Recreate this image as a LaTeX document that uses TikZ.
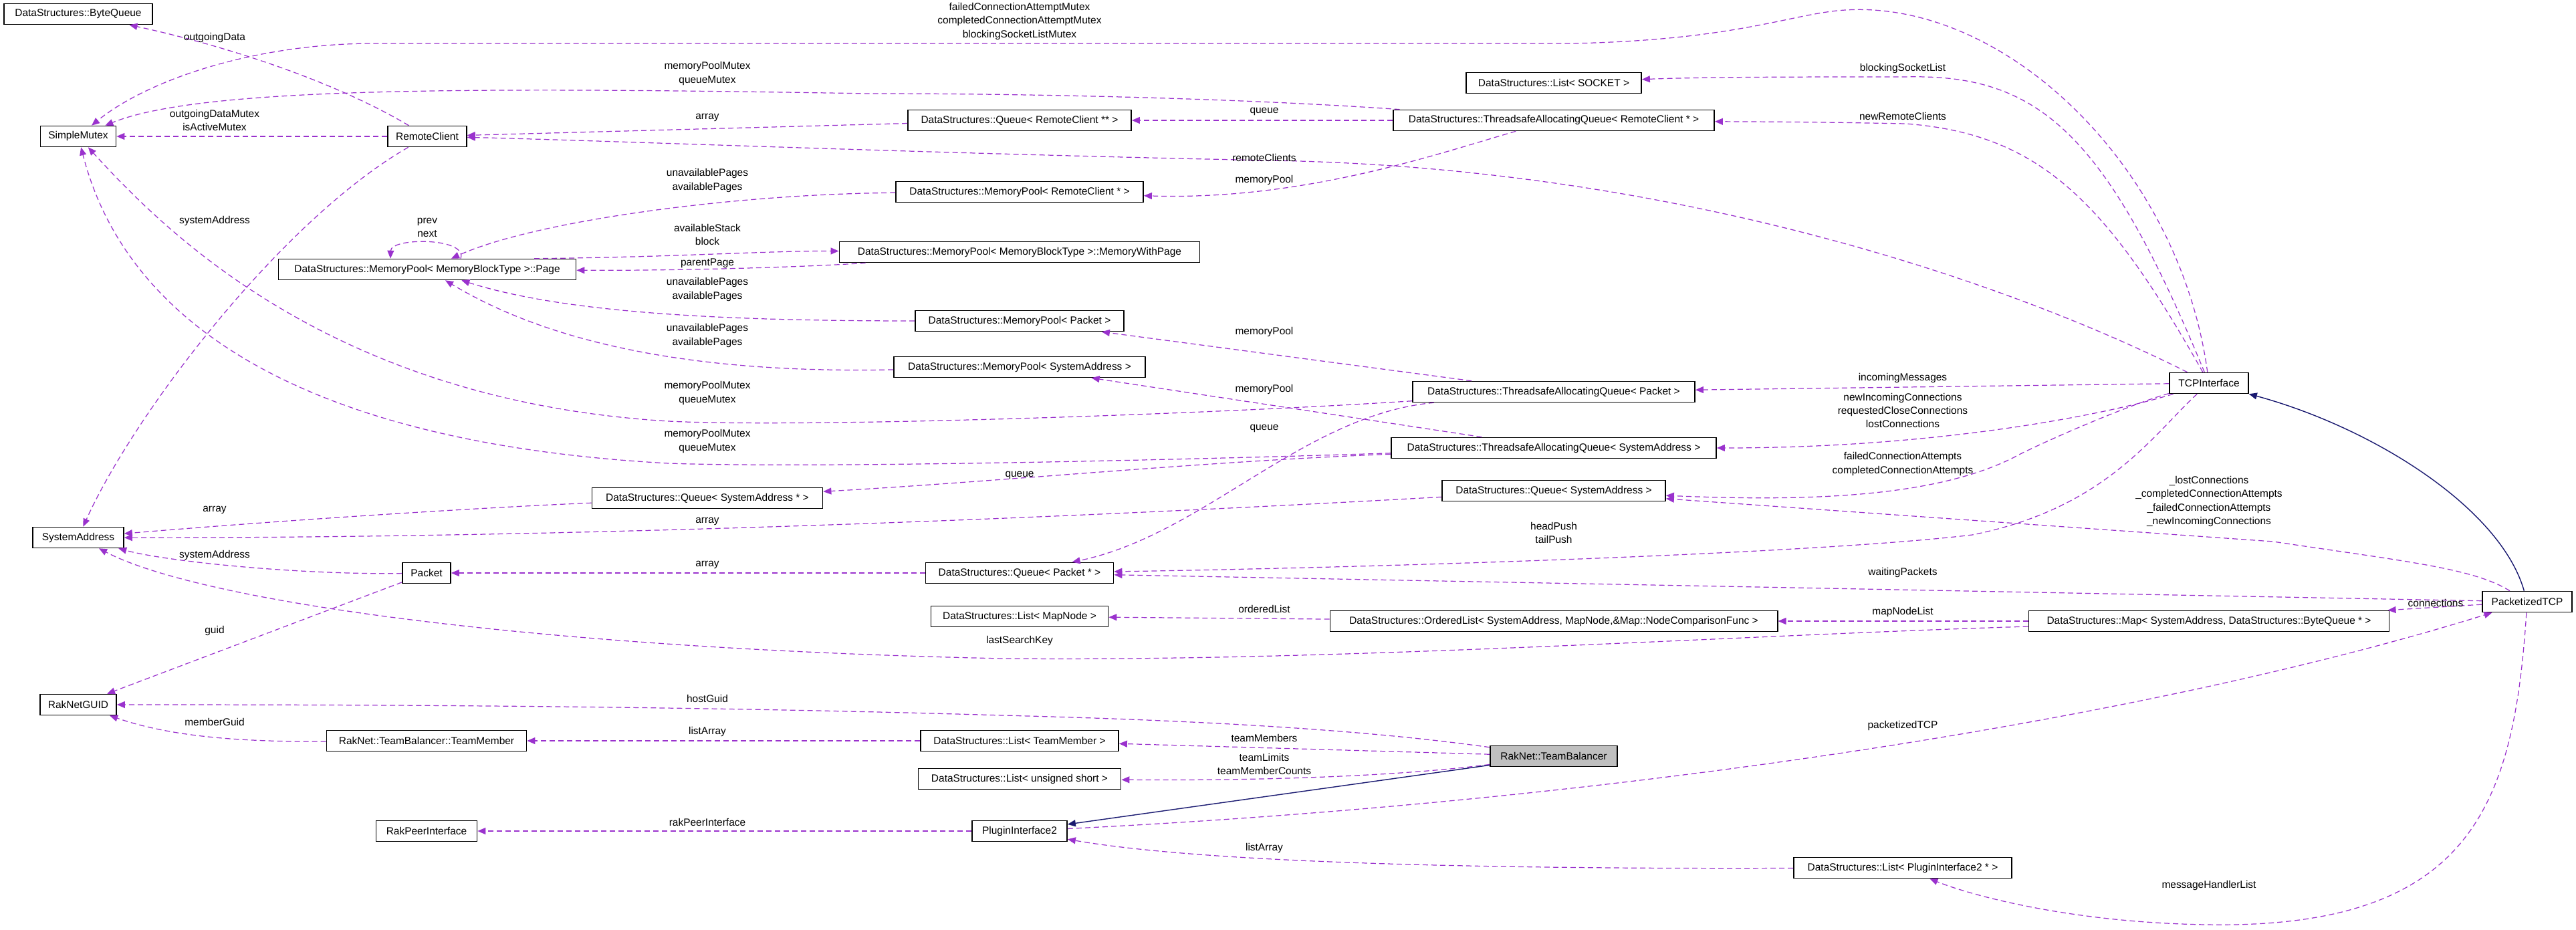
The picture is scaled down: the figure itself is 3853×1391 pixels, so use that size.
\documentclass[tikz,border=0pt]{standalone}
\usepackage{fontspec}
\setmainfont{Liberation Sans}
\usetikzlibrary{arrows.meta}
\definecolor{edgec}{HTML}{9A32CD}
\definecolor{inhc}{HTML}{191970}
\newcommand{\dgfont}{\fontsize{4.4pt}{5.7pt}\selectfont}
\tikzset{
 cls/.style={draw, line width=0.45pt, fill=white, minimum height=0.31cm, inner sep=0pt, font=\dgfont},
 e/.style={draw=edgec, line width=0.35pt, dash pattern=on 0.08cm off 0.05cm, -{Triangle[length=0.12cm,width=0.1cm]}, fill=none},
 inh/.style={draw=inhc, line width=0.4pt, -{Triangle[length=0.12cm,width=0.1cm, fill=inhc]}},
 lab/.style={font=\dgfont, align=center, inner sep=0pt}
}
\begin{document}
\begin{tikzpicture}[x=0.01cm,y=-0.01cm]
\useasboundingbox (0,0) rectangle (3853,1391);
% nodes
\node[cls, minimum width=2.22cm] (bq) at (117,21) {DataStructures::ByteQueue};
\node[cls, minimum width=1.13cm] (sm) at (117,204) {SimpleMutex};
\node[cls, minimum width=1.18cm] (rc) at (639,204) {RemoteClient};
\node[cls, minimum width=4.45cm] (page) at (639,403) {DataStructures::MemoryPool< MemoryBlockType >::Page};
\node[cls, minimum width=5.39cm] (mwp) at (1525,377) {DataStructures::MemoryPool< MemoryBlockType >::MemoryWithPage};
\node[cls, minimum width=2.62cm] (sock) at (2324,124) {DataStructures::List< SOCKET >};
\node[cls, minimum width=3.34cm] (qrc) at (1525,180) {DataStructures::Queue< RemoteClient ** >};
\node[cls, minimum width=4.80cm] (taqrc) at (2324,180) {DataStructures::ThreadsafeAllocatingQueue< RemoteClient * >};
\node[cls, minimum width=3.70cm] (mprc) at (1525,287) {DataStructures::MemoryPool< RemoteClient * >};
\node[cls, minimum width=3.12cm] (mpp) at (1525,480) {DataStructures::MemoryPool< Packet >};
\node[cls, minimum width=3.76cm] (mpsa) at (1525,549) {DataStructures::MemoryPool< SystemAddress >};
\node[cls, minimum width=4.22cm] (taqp) at (2324,586) {DataStructures::ThreadsafeAllocatingQueue< Packet >};
\node[cls, minimum width=4.86cm] (taqsa) at (2324,670) {DataStructures::ThreadsafeAllocatingQueue< SystemAddress >};
\node[cls, minimum width=1.18cm] (tcp) at (3304,573) {TCPInterface};
\node[cls, minimum width=3.45cm] (qsap) at (1058,745) {DataStructures::Queue< SystemAddress * >};
\node[cls, minimum width=1.36cm] (sa) at (117,804) {SystemAddress};
\node[cls, minimum width=0.72cm] (pk) at (638,857) {Packet};
\node[cls, minimum width=1.14cm] (guid) at (117,1054) {RakNetGUID};
\node[cls, minimum width=2.99cm] (tm) at (638,1108) {RakNet::TeamBalancer::TeamMember};
\node[cls, minimum width=1.51cm] (rpi) at (638,1243) {RakPeerInterface};
\node[cls, minimum width=3.34cm] (qsa) at (2324,734) {DataStructures::Queue< SystemAddress >};
\node[cls, minimum width=2.81cm] (qpk) at (1525,857) {DataStructures::Queue< Packet * >};
\node[cls, minimum width=2.65cm] (lmn) at (1525,922) {DataStructures::List< MapNode >};
\node[cls, minimum width=6.69cm] (ol) at (2324,929) {DataStructures::OrderedList< SystemAddress, MapNode,\&Map::NodeComparisonFunc >};
\node[cls, minimum width=2.96cm] (ltm) at (1525,1108) {DataStructures::List< TeamMember >};
\node[cls, minimum width=1.90cm, fill={rgb,255:red,191;green,191;blue,191}] (tb) at (2324,1131) {RakNet::TeamBalancer};
\node[cls, minimum width=3.03cm] (lus) at (1525,1165) {DataStructures::List< unsigned short >};
\node[cls, minimum width=1.42cm] (pi2) at (1525,1243) {PluginInterface2};
\node[cls, minimum width=1.34cm] (ptcp) at (3780,900) {PacketizedTCP};
\node[cls, minimum width=5.39cm] (map) at (3304,929) {DataStructures::Map< SystemAddress, DataStructures::ByteQueue * >};
\node[cls, minimum width=3.26cm] (lp2) at (2846,1298) {DataStructures::List< PluginInterface2 * >};
% edges
\draw[e] (rc) .. controls (480,110) and (300,60) .. (bq);
\draw[e] (rc) -- (sm);
\draw[e] (rc) .. controls (420,330) and (200,620) .. (sa);
\draw[e] (tcp) .. controls (3260,250) and (3000,0) .. (2760,15) .. controls (2680,20) and (2600,60) .. (2350,65) -- (560,65) .. controls (380,65) and (220,120) .. (sm);
\draw[e] (taqrc) .. controls (1900,150) and (1600,140) .. (1300,140) .. controls (700,130) and (300,130) .. (sm);
\draw[e] (qrc) -- (rc);
\draw[e] (tcp) .. controls (3000,420) and (2500,250) .. (1900,240) .. controls (1400,230) and (900,210) .. (rc);
\draw[e] (tcp) .. controls (3150,200) and (3050,110) .. (2850,115) .. controls (2700,115) and (2550,115) .. (sock);
\draw[e] (tcp) .. controls (3150,300) and (3050,200) .. (2850,185) .. controls (2700,182) and (2600,182) .. (taqrc);
\draw[e] (taqrc) -- (qrc);
\draw[e] (taqrc) .. controls (2150,230) and (1950,300) .. (mprc);
\draw[e] (mprc) .. controls (1100,290) and (800,330) .. (page);
\draw[e] ([xshift=0.5cm]page.north) .. controls (700,355) and (585,355) .. ([xshift=-0.55cm]page.north);
\draw[e] ([xshift=1.6cm]page.north) .. controls (1000,385) and (1150,375) .. (mwp);
\draw[e] (mwp) .. controls (1200,400) and (1000,405) .. (page);
\draw[e] (mpp) .. controls (1100,480) and (850,470) .. (page);
\draw[e] (mpsa) .. controls (1000,560) and (800,500) .. (page);
\draw[e] (taqp) .. controls (1800,620) and (1200,640) .. (1000,630) .. controls (500,600) and (250,350) .. (sm);
\draw[e] (taqsa) .. controls (1700,690) and (1200,700) .. (1000,693) .. controls (400,660) and (180,450) .. (sm);
\draw[e] (taqp) -- (mpp);
\draw[e] (taqsa) -- (mpsa);
\draw[e] (tcp) -- (taqp);
\draw[e] (tcp) .. controls (3150,620) and (2900,670) .. (taqsa);
\draw[e] (tcp) .. controls (3200,600) and (3080,650) .. (3020,680) .. controls (2900,745) and (2700,750) .. (qsa);
\draw[e] (tcp) .. controls (3220,650) and (3150,760) .. (2950,800) .. controls (2700,830) and (2000,850) .. (qpk);
\draw[e] (taqp) .. controls (1950,620) and (1800,800) .. (qpk);
\draw[e] (taqsa) .. controls (1800,690) and (1500,720) .. (qsap);
\draw[e] (qsap) .. controls (700,760) and (400,780) .. (sa);
\draw[e] (qsa) .. controls (1500,780) and (800,805) .. (sa);
\draw[e] (qpk) -- (pk);
\draw[e] (pk) .. controls (450,860) and (250,840) .. (sa);
\draw[e] (pk) -- (guid);
\draw[e] (map) .. controls (2600,950) and (2000,990) .. (1500,985) .. controls (800,970) and (300,900) .. (sa);
\draw[e] (ol) -- (lmn);
\draw[e] (map) -- (ol);
\draw[e] (ptcp) -- (map);
\draw[e] (ptcp) -- (qpk);
\draw[e] (ptcp) .. controls (3700,850) and (3600,840) .. (3400,810) -- (qsa);
\draw[inh] (ptcp) .. controls (3740,760) and (3550,640) .. (tcp);
\draw[e] (tb) .. controls (2100,1100) and (1900,1080) .. (1500,1070) .. controls (1000,1055) and (500,1054) .. (guid);
\draw[e] (tb) -- (ltm);
\draw[e] (tb) .. controls (2100,1160) and (1900,1168) .. (lus);
\draw[inh] (tb) -- (pi2);
\draw[e] (ltm) -- (tm);
\draw[e] (tm) .. controls (350,1110) and (250,1100) .. (guid);
\draw[e] (pi2) -- (rpi);
\draw[e] (pi2) .. controls (2400,1200) and (3200,1080) .. (ptcp);
\draw[e] (lp2) .. controls (2200,1300) and (1800,1290) .. (pi2);
\draw[e] (ptcp) .. controls (3760,1200) and (3700,1390) .. (3300,1383) .. controls (3100,1380) and (2950,1340) .. (lp2);
% labels
\node[lab] (l1) at (321,57) {outgoingData};
\node[lab] (l2) at (321,180) {outgoingDataMutex\\isActiveMutex};
\node[lab] (l3) at (321,330) {systemAddress};
\node[lab] (l4) at (1525,32) {failedConnectionAttemptMutex\\completedConnectionAttemptMutex\\blockingSocketListMutex};
\node[lab] (l5) at (1058,110) {memoryPoolMutex\\queueMutex};
\node[lab] (l6) at (1058,176) {array};
\node[lab] (l7) at (1891,236) {remoteClients};
\node[lab] (l8) at (2846,103) {blockingSocketList};
\node[lab] (l9) at (2846,174) {newRemoteClients};
\node[lab] (l10) at (1891,167) {queue};
\node[lab] (l11) at (1891,270) {memoryPool};
\node[lab] (l12) at (1058,270) {unavailablePages\\availablePages};
\node[lab] (l13) at (639,340) {prev\\next};
\node[lab] (l14) at (1058,351) {availableStack\\block};
\node[lab] (l15) at (1058,394) {parentPage};
\node[lab] (l16) at (1058,433) {unavailablePages\\availablePages};
\node[lab] (l17) at (1058,502) {unavailablePages\\availablePages};
\node[lab] (l18) at (1058,588) {memoryPoolMutex\\queueMutex};
\node[lab] (l19) at (1058,660) {memoryPoolMutex\\queueMutex};
\node[lab] (l20) at (1891,496) {memoryPool};
\node[lab] (l21) at (1891,582) {memoryPool};
\node[lab] (l22) at (2846,565) {incomingMessages};
\node[lab] (l23) at (2846,614) {newIncomingConnections\\requestedCloseConnections\\lostConnections};
\node[lab] (l24) at (2846,694) {failedConnectionAttempts\\completedConnectionAttempts};
\node[lab] (l25) at (1891,641) {queue};
\node[lab] (l26) at (1525,711) {queue};
\node[lab] (l27) at (321,763) {array};
\node[lab] (l28) at (1058,780) {array};
\node[lab] (l29) at (1058,845) {array};
\node[lab] (l30) at (321,830) {systemAddress};
\node[lab] (l31) at (321,943) {guid};
\node[lab] (l32) at (1525,958) {lastSearchKey};
\node[lab] (l33) at (1891,911) {orderedList};
\node[lab] (l34) at (2846,915) {mapNodeList};
\node[lab] (l35) at (3643,902) {connections};
\node[lab] (l36) at (2846,856) {waitingPackets};
\node[lab] (l37) at (2324,797) {headPush\\tailPush};
\node[lab] (l38) at (3304,750) {\_lostConnections\\\_completedConnectionAttempts\\\_failedConnectionAttempts\\\_newIncomingConnections};
\node[lab] (l39) at (1058,1045) {hostGuid};
\node[lab] (l40) at (1891,1104) {teamMembers};
\node[lab] (l41) at (1891,1143) {teamLimits\\teamMemberCounts};
\node[lab] (l43) at (1058,1094) {listArray};
\node[lab] (l44) at (321,1080) {memberGuid};
\node[lab] (l45) at (1058,1230) {rakPeerInterface};
\node[lab] (l46) at (2846,1085) {packetizedTCP};
\node[lab] (l47) at (1891,1268) {listArray};
\node[lab] (l48) at (3304,1324) {messageHandlerList};
\end{tikzpicture}
\end{document}
